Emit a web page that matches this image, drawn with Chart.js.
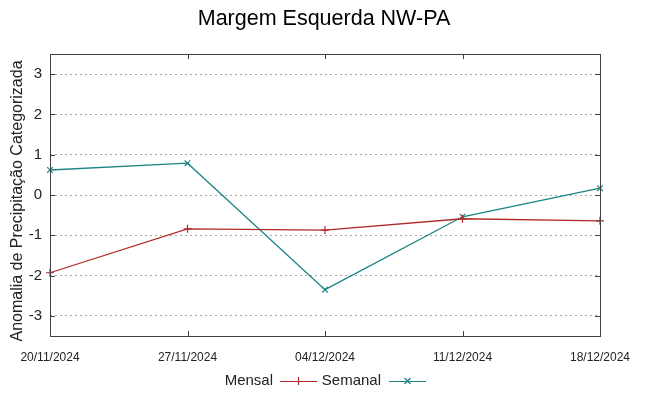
<!DOCTYPE html>
<html>
<head>
<meta charset="utf-8">
<script src="https://cdn.jsdelivr.net/npm/chart.js@4/dist/chart.umd.min.js"></script>
<style>
  body { margin: 0; background: #fff; }
  #wrap { width: 649px; height: 396px; }
</style>
</head>
<body>
<div id="wrap"><canvas id="chart" width="649" height="396"></canvas></div>
<script>
// data
const dates = ["20/11/2024", "27/11/2024", "04/12/2024", "11/12/2024", "18/12/2024"];
const mensal = [-1.93, -0.84, -0.87, -0.59, -0.64];
const semanal = [0.62, 0.79, -2.35, -0.54, 0.17];
const yTicks = [3, 2, 1, 0, -1, -2, -3];

const FONT = "'Liberation Sans', Arial, sans-serif";
const RED = "#b02a2a";
const TEAL = "#1b8585";

// title, y label, frame, inward tick marks and legend, gnuplot-like
const framePlugin = {
    id: "frame",
    afterDraw(chart) {
        const ctx = chart.ctx;
        const a = chart.chartArea;
        const xs = chart.scales.x, ys = chart.scales.y;
        ctx.save();

        ctx.fillStyle = "#000";
        ctx.font = "21.5px " + FONT;
        ctx.textAlign = "center";
        ctx.textBaseline = "middle";
        ctx.fillText("Margem Esquerda NW-PA", 324, 19);

        ctx.save();
        ctx.translate(18, 201);
        ctx.rotate(-Math.PI / 2);
        ctx.fillStyle = "#222";
        ctx.font = "16px " + FONT;
        ctx.fillText("Anomalia de Precipitação Categorizada", 0, 0);
        ctx.restore();

        ctx.strokeStyle = "#404040";
        ctx.lineWidth = 1;
        ctx.strokeRect(Math.round(a.left) + 0.5, Math.round(a.top) + 0.5,
            Math.round(a.right - a.left), Math.round(a.bottom - a.top));

        ctx.beginPath();
        dates.forEach((d, i) => {
            const x = Math.round(xs.getPixelForValue(i)) + 0.5;
            ctx.moveTo(x, a.bottom); ctx.lineTo(x, a.bottom - 5);
            ctx.moveTo(x, a.top); ctx.lineTo(x, a.top + 5);
        });
        yTicks.forEach(v => {
            const y = Math.round(ys.getPixelForValue(v)) + 0.5;
            ctx.moveTo(a.left, y); ctx.lineTo(a.left + 5, y);
            ctx.moveTo(a.right, y); ctx.lineTo(a.right - 5, y);
        });
        ctx.stroke();

        // legend
        const ly = 381;
        ctx.font = "15px " + FONT;
        ctx.textAlign = "right";
        const items = [
            { label: "Mensal", textRight: 273, x0: 280, x1: 317 },
            { label: "Semanal", textRight: 381, x0: 389, x1: 426 }
        ];
        items.forEach((it, i) => {
            const ds = chart.data.datasets[i];
            ctx.fillStyle = "#222";
            ctx.fillText(it.label, it.textRight, ly);
            ctx.strokeStyle = ds.borderColor;
            ctx.lineWidth = 1.2;
            ctx.beginPath();
            ctx.moveTo(it.x0, ly + 0.5); ctx.lineTo(it.x1, ly + 0.5);
            const cx = (it.x0 + it.x1) / 2;
            if (ds.pointStyle === "cross") {
                ctx.moveTo(cx, ly - 4); ctx.lineTo(cx, ly + 4);
            } else {
                ctx.moveTo(cx - 3, ly - 3); ctx.lineTo(cx + 3, ly + 3);
                ctx.moveTo(cx - 3, ly + 3); ctx.lineTo(cx + 3, ly - 3);
            }
            ctx.stroke();
        });
        ctx.restore();
    }
};

new Chart(document.getElementById("chart"), {
    type: "line",
    data: {
        labels: dates,
        datasets: [{
            label: "Mensal",
            data: mensal,
            borderColor: RED,
            backgroundColor: RED,
            borderWidth: 1.3,
            pointStyle: "cross",
            pointRadius: 4,
            pointBorderWidth: 1.2,
            tension: 0,
            clip: false
        }, {
            label: "Semanal",
            data: semanal,
            borderColor: TEAL,
            backgroundColor: TEAL,
            borderWidth: 1.3,
            pointStyle: "crossRot",
            pointRadius: 4,
            pointBorderWidth: 1.2,
            tension: 0,
            clip: false
        }]
    },
    options: {
        responsive: false,
        animation: false,
        layout: { padding: { top: 54, right: 49, left: 0, bottom: 0 } },
        plugins: {
            legend: { display: false },
            title: { display: false },
            tooltip: { enabled: false }
        },
        scales: {
            x: {
                type: "category",
                offset: false,
                grid: { display: false, drawTicks: false },
                border: { display: false },
                ticks: {
                    color: "#222",
                    font: { family: FONT, size: 12 },
                    padding: 14,
                    maxRotation: 0,
                    autoSkip: false
                },
                afterFit(s) { s.height = 60; }
            },
            y: {
                min: -3.5,
                max: 3.5,
                afterBuildTicks(s) { s.ticks = yTicks.map(v => ({ value: v })); },
                grid: {
                    color: "#a8a8a8",
                    lineWidth: 1,
                    drawTicks: false
                },
                border: { display: false, dash: [2, 3] },
                ticks: {
                    color: "#222",
                    font: { family: FONT, size: 15 },
                    padding: 8
                },
                afterFit(s) { s.width = 50; }
            }
        }
    },
    plugins: [framePlugin]
});
</script>
</body>
</html>
